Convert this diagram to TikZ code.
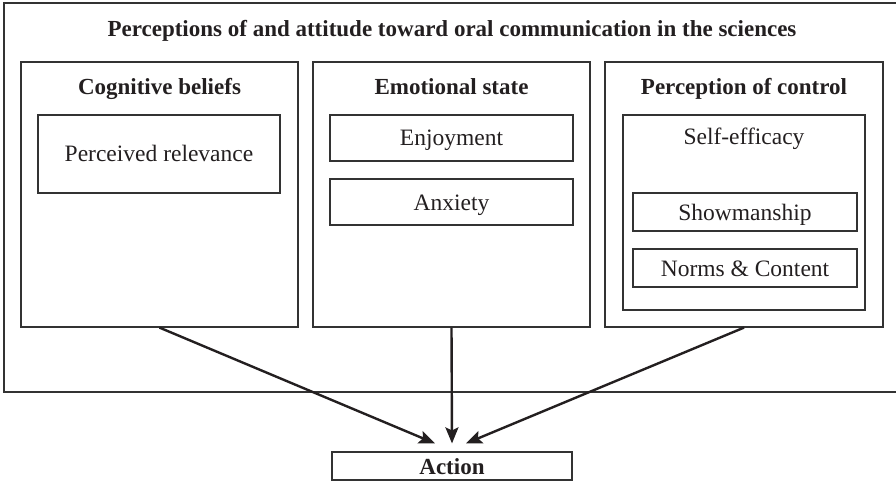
\documentclass[tikz,border=0pt]{standalone}
\usepackage{fontspec}
\setmainfont{Liberation Serif}
\usetikzlibrary{arrows.meta}
\definecolor{ink}{HTML}{231F20}
\definecolor{edge}{HTML}{333333}
\tikzset{
  frame/.style={draw=edge, line width=1.2pt, inner sep=0pt, fill=none},
  titletext/.style={font=\fontsize{23}{27}\selectfont\bfseries, text=ink, anchor=base, inner sep=0pt},
  bodytext/.style={font=\fontsize{23.5}{28}\selectfont, text=ink, anchor=base, inner sep=0pt},
  flow/.style={draw=ink, line width=2.4pt, -{Stealth[length=16pt,width=13pt,inset=3pt]}}
}
\begin{document}
\begin{tikzpicture}[x=1pt,y=-1pt]
\useasboundingbox (0,0) rectangle (896,481);
\clip (0,0) rectangle (896,481);
% outer frame (right edge runs past the picture)
\draw[draw=edge, line width=1.2pt] (902,3) -- (4,3) -- (4,392) -- (902,392);
\node[titletext] (title) at (452,37) {Perceptions of and attitude toward oral communication in the sciences};
% three columns
\node[frame, minimum width=277pt, minimum height=265pt] (b1) at (159.5,194.5) {};
\node[frame, minimum width=277pt, minimum height=265pt] (b2) at (451.5,194.5) {};
\node[frame, minimum width=278pt, minimum height=265pt] (b3) at (744,194.5) {};
\node[titletext] (h1) at (159.5,95) {Cognitive beliefs};
\node[titletext] (h2) at (451.5,95) {Emotional state};
\node[titletext] (h3) at (744,95) {Perception of control};
% inner boxes
\node[frame, minimum width=242pt, minimum height=78pt] (pr) at (159,154) {};
\node[bodytext] (prt) at (159,162) {Perceived relevance};
\node[frame, minimum width=243pt, minimum height=46pt] (en) at (451.5,138) {};
\node[bodytext] (ent) at (451.5,146) {Enjoyment};
\node[frame, minimum width=243pt, minimum height=46pt] (an) at (451.5,202) {};
\node[bodytext] (ant) at (451.5,210) {Anxiety};
\node[frame, minimum width=242pt, minimum height=195pt] (se) at (744,212.5) {};
\node[bodytext] (set) at (744,145) {Self-efficacy};
\node[frame, minimum width=224pt, minimum height=38pt] (sh) at (745,212) {};
\node[bodytext] (sht) at (745,220) {Showmanship};
\node[frame, minimum width=224pt, minimum height=38pt] (nc) at (745,268) {};
\node[bodytext] (nct) at (745,276) {Norms \& Content};
% action
\node[frame, minimum width=240pt, minimum height=28pt] (act) at (452,466) {};
\node[titletext] (actt) at (452,474) {Action};
% arrows
\draw[flow] (b1.south) -- ([xshift=-17pt,yshift=8pt]act.north);
\draw[flow] (b2.south) -- ([yshift=8pt]act.north);
\draw[flow] (b3.south) -- ([xshift=14pt,yshift=8pt]act.north);
\end{tikzpicture}
\end{document}
